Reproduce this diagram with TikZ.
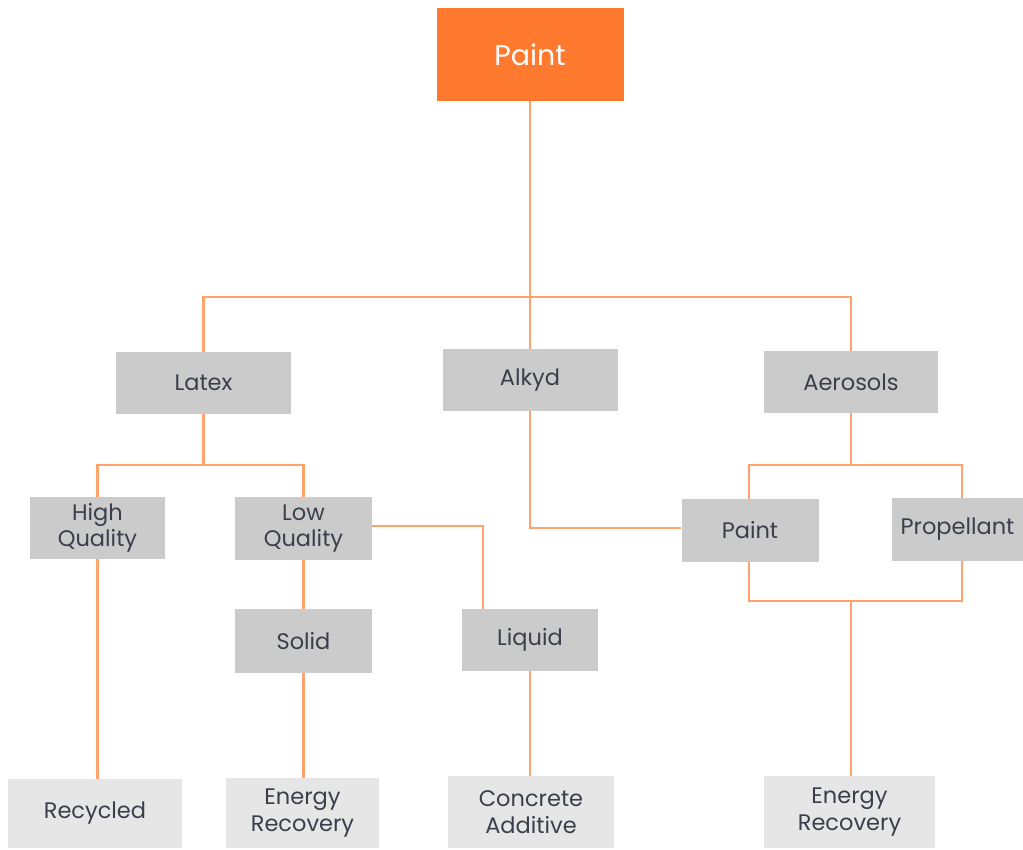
\documentclass[tikz,border=0pt]{standalone}
\usepackage{fontspec}
\setmainfont{Poppins}
\definecolor{rootfill}{HTML}{FF7A2E}
\definecolor{boxgray}{HTML}{CBCBCB}
\definecolor{leafgray}{HTML}{E6E6E6}
\definecolor{txt}{HTML}{3B3F4C}
\definecolor{link}{HTML}{FFA26B}
\begin{document}
\begin{tikzpicture}[x=1pt,y=-1pt,
  box/.style={fill=boxgray, inner sep=0pt, text=txt, align=center,
    font=\fontsize{22.5}{26.5}\selectfont},
  leaf/.style={box, fill=leafgray},
  root/.style={fill=rootfill, inner sep=0pt, text=white,
    font=\fontsize{28.5}{32}\selectfont},
  wire/.style={draw=link, line width=2.2pt}]
\useasboundingbox (0,0) rectangle (1023,849);

% root
\node[root, minimum width=187pt, minimum height=93pt] (paint) at (530,54.5) {Paint};

% first level
\node[box, minimum width=175pt, minimum height=62pt] (latex) at (203.5,383) {Latex};
\node[box, minimum width=175pt, minimum height=62pt] (alkyd) at (530,380) {Alkyd};
\node[box, minimum width=174pt, minimum height=62pt] (aerosols) at (851,382) {Aerosols};

% second level
\node[box, minimum width=135pt, minimum height=62pt] (hq) at (97.5,528) {High\\Quality};
\node[box, minimum width=137pt, minimum height=63pt] (lq) at (303.5,528.5) {Low\\Quality};
\node[box, minimum width=137pt, minimum height=63pt] (paintb) at (750,530.5) {Paint};
\node[box, minimum width=131pt, minimum height=63pt] (prop) at (957.5,529.5) {Propellant};
\node[box, minimum width=137pt, minimum height=64pt] (solid) at (303.5,641) {Solid};
\node[box, minimum width=136pt, minimum height=62pt] (liquid) at (530,640) {Liquid};

% outcomes
\node[leaf, minimum width=174pt, minimum height=69pt] (recycled) at (95,813.5) {Recycled};
\node[leaf, minimum width=153pt, minimum height=70pt] (erA) at (302.5,813) {Energy\\Recovery};
\node[leaf, minimum width=166pt, minimum height=72pt] (concrete) at (531,812) {Concrete\\Additive};
\node[leaf, minimum width=171pt, minimum height=72pt] (erB) at (849.5,812) {Energy\\Recovery};

% junction points
\coordinate (busA) at (530,297);
\coordinate (busB) at (203.5,465);
\coordinate (busC) at (851,465);
\coordinate (busD) at (851,601);

% paint -> types
\draw[wire] (paint.south) -- (busA);
\draw[wire] (latex.north) |- (busA);
\draw[wire] (alkyd.north) -- (busA);
\draw[wire] (aerosols.north) |- (busA);

% latex branch
\draw[wire] (latex.south) -- (busB);
\draw[wire] (hq.north) |- (busB);
\draw[wire] (lq.north) |- (busB);
\draw[wire] (hq.south) -- (hq.south |- recycled.north);
\draw[wire] (lq.south) -- (solid.north);
\draw[wire] ([yshift=2.5pt]lq.east) -| ([xshift=21pt]liquid.north west);
\draw[wire] (solid.south) -- (solid.south |- erA.north);
\draw[wire] (liquid.south) -- (liquid.south |- concrete.north);

% alkyd branch
\draw[wire] (alkyd.south) |- ([yshift=2.5pt]paintb.west);

% aerosols branch
\draw[wire] (aerosols.south) -- (busC);
\draw[wire] ([xshift=-1pt]paintb.north) |- (busC);
\draw[wire] ([xshift=4.5pt]prop.north) |- (busC);
\draw[wire] ([xshift=-1pt]paintb.south) |- (busD);
\draw[wire] ([xshift=4.5pt]prop.south) |- (busD);
\draw[wire] (busD) -- (busD |- erB.north);
\end{tikzpicture}
\end{document}
